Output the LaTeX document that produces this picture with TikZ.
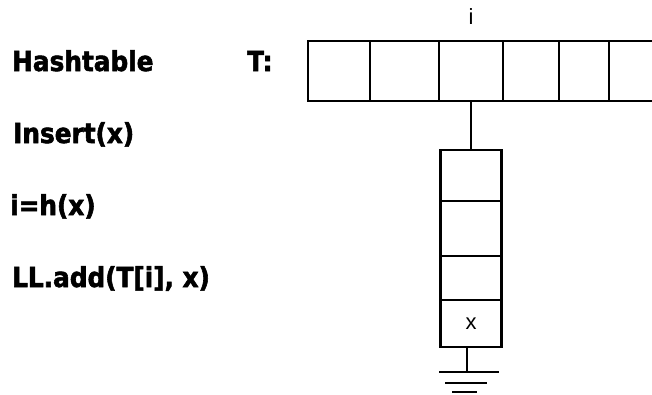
\documentclass[tikz,border=0pt]{standalone}
\usepackage{fontspec}
\usepackage{tikz}
\newfontfamily\codefont{DejaVu Sans}[FakeStretch=0.9, BoldFeatures={FakeBold=2}]
\newfontfamily\cellfont{Liberation Sans}

\begin{document}
\begin{tikzpicture}[
    x=1pt, y=-1pt,
    slot/.style={rectangle, draw, line width=2.2pt, inner sep=0pt, outer sep=0pt,
                 minimum height=60pt},
    entry/.style={rectangle, draw, line width=2.2pt, inner sep=0pt, outer sep=0pt,
                  minimum width=61pt, font=\cellfont\fontsize{22}{26}\selectfont},
    codeline/.style={anchor=base west, inner sep=0pt,
                     font=\codefont\bfseries\fontsize{27.5}{32}\selectfont},
    link/.style={line width=2.2pt}
]
    \clip (0,0) rectangle (652,394);

    % pseudo code on the left
    \node[codeline] (title) at (12,71) {Hashtable};
    \node[codeline] (tname) at (247,71) {T:};
    \node[codeline] (ins) at (13,143) {Insert(x)};
    \node[codeline] (hash) at (10,215) {i=h(x)};
    \node[codeline] (add) at (12,287) {LL.add(T[i], x)};

    % the table T
    \node[slot, minimum width=62pt] (t0) at (339,71) {};
    \node[slot, minimum width=69pt] (t1) at (404.5,71) {};
    \node[slot, minimum width=64pt] (t2) at (471,71) {};
    \node[slot, minimum width=56pt] (t3) at (531,71) {};
    \node[slot, minimum width=50pt] (t4) at (584,71) {};
    \node[slot, minimum width=61pt] (t5) at (639.5,71) {};
    \node[font=\cellfont\fontsize{22}{26}\selectfont, inner sep=0pt] (idx) at (471,17) {i};

    % linked list of slot i
    \node[entry, minimum height=51pt] (e0) at (471,175.5) {};
    \node[entry, minimum height=55pt] (e1) at (471,228.5) {};
    \node[entry, minimum height=44pt] (e2) at (471,278) {};
    \node[entry, minimum height=47pt] (e3) at (471,323.5) {x};

    \draw[link] (t2.south) -- (e0.north);

    % end of list
    \coordinate (gnd) at (467,372);
    \draw[link] (e3.south -| gnd) -- (gnd);
    \draw[link] ([xshift=-28pt]gnd) -- ([xshift=32pt]gnd);
    \draw[link] ([xshift=-22pt, yshift=-11pt]gnd) -- ([xshift=20pt, yshift=-11pt]gnd);
    \draw[link] ([xshift=-15pt, yshift=-20pt]gnd) -- ([xshift=10pt, yshift=-20pt]gnd);
\end{tikzpicture}
\end{document}
